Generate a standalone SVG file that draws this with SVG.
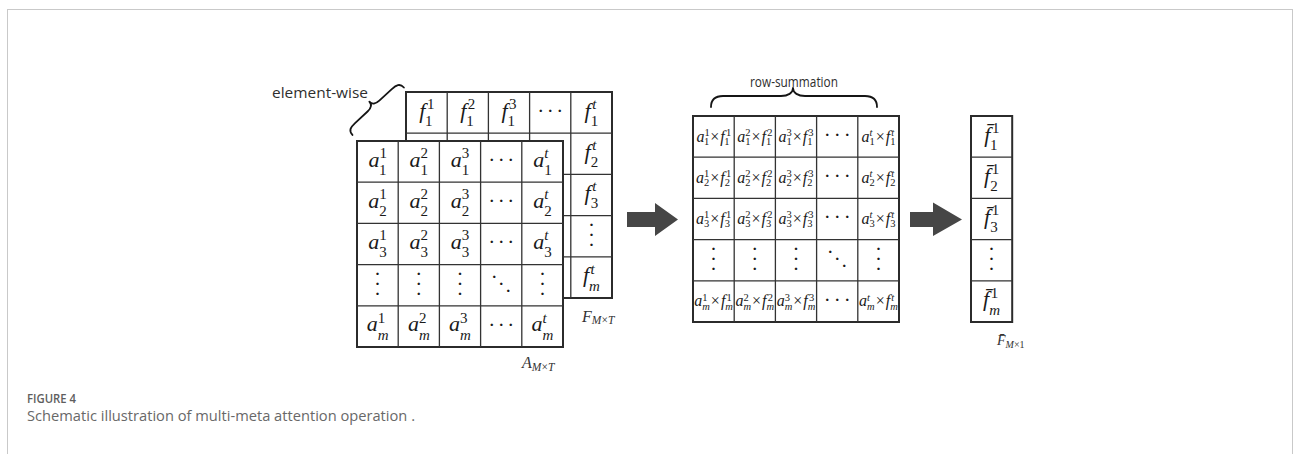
<svg xmlns="http://www.w3.org/2000/svg" width="1293" height="454" viewBox="0 0 1293 454">
<style>
.frame{fill:none;stroke:#c9c9c9;stroke-width:1}
.box{fill:#fff;stroke:#2b2b2b;stroke-width:2}
.grid{fill:none;stroke:#333;stroke-width:1.3}
.L{font-family:"Liberation Serif",serif;font-style:italic;font-size:22px;fill:#1a1a1a;text-anchor:middle}
.M{font-family:"Liberation Serif",serif;font-style:italic;font-size:16px;fill:#1a1a1a;text-anchor:middle}
.d{font-size:15px;font-style:normal}
.v{font-size:15px;font-style:italic}
.md{font-size:10.5px;font-style:normal}
.mv{font-size:10.5px;font-style:italic}
.op{font-style:normal}
.dot{font-family:"Liberation Serif",serif;font-size:21px;fill:#1a1a1a;text-anchor:middle}
.lab{font-family:"Liberation Serif",serif;font-style:italic;font-size:16px;fill:#333}
.ls{font-size:11.5px}
.note{font-family:"Open Sans",sans-serif;font-size:14px;fill:#2e2e2e}
.brace{fill:none;stroke:#151515;stroke-width:1.8;stroke-linecap:round;stroke-linejoin:round}
.arrow{fill:#464646}
.fig{font-family:"Open Sans",sans-serif;font-size:12.5px;font-weight:600;fill:#5e5e5e}
.cap{font-family:"Open Sans",sans-serif;font-size:14.5px;fill:#686868}
</style>

<!-- figure frame (open at the bottom) -->
<rect class="frame" x="7.5" y="9.5" width="1285" height="470"/>

<!-- F matrix (back layer) -->
<g id="matrix-F">
  <rect class="box" x="406" y="92" width="206" height="206"/>
  <path class="grid" d="M447.2,92V298M488.4,92V298M529.6,92V298M570.8,92V298M406,133.2H612M406,174.4H612M406,215.6H612M406,256.8H612"/>
  <text class="L" x="426.6" y="117.5">f<tspan class="d" dx="1.5" dy="-8.5">1</tspan><tspan class="d" dx="-9" dy="17">1</tspan></text>
  <text class="L" x="467.8" y="117.5">f<tspan class="d" dx="1.5" dy="-8.5">2</tspan><tspan class="d" dx="-9" dy="17">1</tspan></text>
  <text class="L" x="509" y="117.5">f<tspan class="d" dx="1.5" dy="-8.5">3</tspan><tspan class="d" dx="-9" dy="17">1</tspan></text>
  <text class="dot" x="540.7 550.2 559.7" y="118 118 118">···</text>
  <text class="L" x="591.4" y="117.5">f<tspan class="v" dx="1.5" dy="-8.5">t</tspan><tspan class="d" dx="-5.7" dy="17">1</tspan></text>
  <text class="L" x="591.4" y="158.7">f<tspan class="v" dx="1.5" dy="-8.5">t</tspan><tspan class="d" dx="-5.7" dy="17">2</tspan></text>
  <text class="L" x="591.4" y="199.9">f<tspan class="v" dx="1.5" dy="-8.5">t</tspan><tspan class="d" dx="-5.7" dy="17">3</tspan></text>
  <text class="dot" x="591.4 591.4 591.4" y="231.7 241.7 251.7">···</text>
  <text class="L" x="591.4" y="282.3">f<tspan class="v" dx="1.5" dy="-8.5">t</tspan><tspan class="v" dx="-5.7" dy="17">m</tspan></text>
  <text class="lab" x="582" y="321.5">F<tspan class="ls" dy="2.5">M<tspan class="op">×</tspan>T</tspan></text>
</g>

<!-- A matrix (front layer) -->
<g id="matrix-A">
  <rect class="box" x="357" y="141" width="206" height="206"/>
  <path class="grid" d="M398.2,141V347M439.4,141V347M480.6,141V347M521.8,141V347M357,182.2H563M357,223.4H563M357,264.6H563M357,305.8H563"/>
  <text class="L" x="377.6" y="166.5">a<tspan class="d" dy="-8.5">1</tspan><tspan class="d" dx="-7.5" dy="17">1</tspan></text>
  <text class="L" x="418.8" y="166.5">a<tspan class="d" dy="-8.5">2</tspan><tspan class="d" dx="-7.5" dy="17">1</tspan></text>
  <text class="L" x="460" y="166.5">a<tspan class="d" dy="-8.5">3</tspan><tspan class="d" dx="-7.5" dy="17">1</tspan></text>
  <text class="dot" x="491.7 501.2 510.7" y="167 167 167">···</text>
  <text class="L" x="542.4" y="166.5">a<tspan class="v" dy="-8.5">t</tspan><tspan class="d" dx="-4.2" dy="17">1</tspan></text>

  <text class="L" x="377.6" y="207.7">a<tspan class="d" dy="-8.5">1</tspan><tspan class="d" dx="-7.5" dy="17">2</tspan></text>
  <text class="L" x="418.8" y="207.7">a<tspan class="d" dy="-8.5">2</tspan><tspan class="d" dx="-7.5" dy="17">2</tspan></text>
  <text class="L" x="460" y="207.7">a<tspan class="d" dy="-8.5">3</tspan><tspan class="d" dx="-7.5" dy="17">2</tspan></text>
  <text class="dot" x="491.7 501.2 510.7" y="208.2 208.2 208.2">···</text>
  <text class="L" x="542.4" y="207.7">a<tspan class="v" dy="-8.5">t</tspan><tspan class="d" dx="-4.2" dy="17">2</tspan></text>

  <text class="L" x="377.6" y="248.9">a<tspan class="d" dy="-8.5">1</tspan><tspan class="d" dx="-7.5" dy="17">3</tspan></text>
  <text class="L" x="418.8" y="248.9">a<tspan class="d" dy="-8.5">2</tspan><tspan class="d" dx="-7.5" dy="17">3</tspan></text>
  <text class="L" x="460" y="248.9">a<tspan class="d" dy="-8.5">3</tspan><tspan class="d" dx="-7.5" dy="17">3</tspan></text>
  <text class="dot" x="491.7 501.2 510.7" y="249.4 249.4 249.4">···</text>
  <text class="L" x="542.4" y="248.9">a<tspan class="v" dy="-8.5">t</tspan><tspan class="d" dx="-4.2" dy="17">3</tspan></text>

  <text class="dot" x="377.6 377.6 377.6" y="280.7 290.7 300.7">···</text>
  <text class="dot" x="418.8 418.8 418.8" y="280.7 290.7 300.7">···</text>
  <text class="dot" x="460 460 460" y="280.7 290.7 300.7">···</text>
  <text class="dot" x="494.2 501.2 508.2" y="283.7 290.7 297.7">···</text>
  <text class="dot" x="542.4 542.4 542.4" y="280.7 290.7 300.7">···</text>

  <text class="L" x="377.6" y="331.3">a<tspan class="d" dy="-8.5">1</tspan><tspan class="v" dx="-7.5" dy="17">m</tspan></text>
  <text class="L" x="418.8" y="331.3">a<tspan class="d" dy="-8.5">2</tspan><tspan class="v" dx="-7.5" dy="17">m</tspan></text>
  <text class="L" x="460" y="331.3">a<tspan class="d" dy="-8.5">3</tspan><tspan class="v" dx="-7.5" dy="17">m</tspan></text>
  <text class="dot" x="491.7 501.2 510.7" y="331.9 331.9 331.9">···</text>
  <text class="L" x="542.4" y="331.3">a<tspan class="v" dy="-8.5">t</tspan><tspan class="v" dx="-4.2" dy="17">m</tspan></text>
  <text class="lab" x="522" y="368">A<tspan class="ls" dy="2.5">M<tspan class="op">×</tspan>T</tspan></text>
</g>

<!-- element-wise annotation -->
<g id="label-element-wise">
  <text class="note" x="272" y="98" textLength="96" lengthAdjust="spacingAndGlyphs">element-wise</text>
  <path class="brace" transform="translate(377.5,110.5) rotate(-42.7)" d="M-35,1C-35,-5 -31,-6 -25,-6L-8,-6C-3,-6 0,-8 0,-12C0,-8 3,-6 8,-6L25,-6C31,-6 35,-5 35,1"/>
</g>

<!-- product matrix A∘F -->
<g id="matrix-product">
  <rect class="box" x="693" y="116" width="206" height="206"/>
  <path class="grid" d="M734.2,116V322M775.4,116V322M816.6,116V322M857.8,116V322M693,157.2H899M693,198.4H899M693,239.6H899M693,280.8H899"/>

  <text class="M" x="713.6" y="141.5">a<tspan class="md" dy="-5.5">1</tspan><tspan class="md" dx="-5.25" dy="9">1</tspan><tspan class="op" dx="1" dy="-3.5">×</tspan><tspan dx="1">f</tspan><tspan class="md" dx="1.2" dy="-5.5">1</tspan><tspan class="md" dx="-6.45" dy="9">1</tspan></text>
  <text class="M" x="754.8" y="141.5">a<tspan class="md" dy="-5.5">2</tspan><tspan class="md" dx="-5.25" dy="9">1</tspan><tspan class="op" dx="1" dy="-3.5">×</tspan><tspan dx="1">f</tspan><tspan class="md" dx="1.2" dy="-5.5">2</tspan><tspan class="md" dx="-6.45" dy="9">1</tspan></text>
  <text class="M" x="796" y="141.5">a<tspan class="md" dy="-5.5">3</tspan><tspan class="md" dx="-5.25" dy="9">1</tspan><tspan class="op" dx="1" dy="-3.5">×</tspan><tspan dx="1">f</tspan><tspan class="md" dx="1.2" dy="-5.5">3</tspan><tspan class="md" dx="-6.45" dy="9">1</tspan></text>
  <text class="dot" x="827.2 837.2 847.2" y="142 142 142">···</text>
  <text class="M" x="878.4" y="141.5">a<tspan class="mv" dy="-5.5">t</tspan><tspan class="md" dx="-2.9" dy="9">1</tspan><tspan class="op" dx="1" dy="-3.5">×</tspan><tspan dx="1">f</tspan><tspan class="mv" dx="1.2" dy="-5.5">t</tspan><tspan class="md" dx="-4.1" dy="9">1</tspan></text>

  <text class="M" x="713.6" y="182.7">a<tspan class="md" dy="-5.5">1</tspan><tspan class="md" dx="-5.25" dy="9">2</tspan><tspan class="op" dx="1" dy="-3.5">×</tspan><tspan dx="1">f</tspan><tspan class="md" dx="1.2" dy="-5.5">1</tspan><tspan class="md" dx="-6.45" dy="9">2</tspan></text>
  <text class="M" x="754.8" y="182.7">a<tspan class="md" dy="-5.5">2</tspan><tspan class="md" dx="-5.25" dy="9">2</tspan><tspan class="op" dx="1" dy="-3.5">×</tspan><tspan dx="1">f</tspan><tspan class="md" dx="1.2" dy="-5.5">2</tspan><tspan class="md" dx="-6.45" dy="9">2</tspan></text>
  <text class="M" x="796" y="182.7">a<tspan class="md" dy="-5.5">3</tspan><tspan class="md" dx="-5.25" dy="9">2</tspan><tspan class="op" dx="1" dy="-3.5">×</tspan><tspan dx="1">f</tspan><tspan class="md" dx="1.2" dy="-5.5">3</tspan><tspan class="md" dx="-6.45" dy="9">2</tspan></text>
  <text class="dot" x="827.2 837.2 847.2" y="183.2 183.2 183.2">···</text>
  <text class="M" x="878.4" y="182.7">a<tspan class="mv" dy="-5.5">t</tspan><tspan class="md" dx="-2.9" dy="9">2</tspan><tspan class="op" dx="1" dy="-3.5">×</tspan><tspan dx="1">f</tspan><tspan class="mv" dx="1.2" dy="-5.5">t</tspan><tspan class="md" dx="-4.1" dy="9">2</tspan></text>

  <text class="M" x="713.6" y="223.9">a<tspan class="md" dy="-5.5">1</tspan><tspan class="md" dx="-5.25" dy="9">3</tspan><tspan class="op" dx="1" dy="-3.5">×</tspan><tspan dx="1">f</tspan><tspan class="md" dx="1.2" dy="-5.5">1</tspan><tspan class="md" dx="-6.45" dy="9">3</tspan></text>
  <text class="M" x="754.8" y="223.9">a<tspan class="md" dy="-5.5">2</tspan><tspan class="md" dx="-5.25" dy="9">3</tspan><tspan class="op" dx="1" dy="-3.5">×</tspan><tspan dx="1">f</tspan><tspan class="md" dx="1.2" dy="-5.5">2</tspan><tspan class="md" dx="-6.45" dy="9">3</tspan></text>
  <text class="M" x="796" y="223.9">a<tspan class="md" dy="-5.5">3</tspan><tspan class="md" dx="-5.25" dy="9">3</tspan><tspan class="op" dx="1" dy="-3.5">×</tspan><tspan dx="1">f</tspan><tspan class="md" dx="1.2" dy="-5.5">3</tspan><tspan class="md" dx="-6.45" dy="9">3</tspan></text>
  <text class="dot" x="827.2 837.2 847.2" y="224.4 224.4 224.4">···</text>
  <text class="M" x="878.4" y="223.9">a<tspan class="mv" dy="-5.5">t</tspan><tspan class="md" dx="-2.9" dy="9">3</tspan><tspan class="op" dx="1" dy="-3.5">×</tspan><tspan dx="1">f</tspan><tspan class="mv" dx="1.2" dy="-5.5">t</tspan><tspan class="md" dx="-4.1" dy="9">3</tspan></text>

  <text class="dot" x="713.6 713.6 713.6" y="255.7 265.7 275.7">···</text>
  <text class="dot" x="754.8 754.8 754.8" y="255.7 265.7 275.7">···</text>
  <text class="dot" x="796 796 796" y="255.7 265.7 275.7">···</text>
  <text class="dot" x="830.2 837.2 844.2" y="258.7 265.7 272.7">···</text>
  <text class="dot" x="878.4 878.4 878.4" y="255.7 265.7 275.7">···</text>

  <text class="M" x="713.6" y="306.3">a<tspan class="md" dy="-5.5">1</tspan><tspan class="mv" dx="-5.25" dy="9">m</tspan><tspan class="op" dx="1" dy="-3.5">×</tspan><tspan dx="1">f</tspan><tspan class="md" dx="1.2" dy="-5.5">1</tspan><tspan class="mv" dx="-6.45" dy="9">m</tspan></text>
  <text class="M" x="754.8" y="306.3">a<tspan class="md" dy="-5.5">2</tspan><tspan class="mv" dx="-5.25" dy="9">m</tspan><tspan class="op" dx="1" dy="-3.5">×</tspan><tspan dx="1">f</tspan><tspan class="md" dx="1.2" dy="-5.5">2</tspan><tspan class="mv" dx="-6.45" dy="9">m</tspan></text>
  <text class="M" x="796" y="306.3">a<tspan class="md" dy="-5.5">3</tspan><tspan class="mv" dx="-5.25" dy="9">m</tspan><tspan class="op" dx="1" dy="-3.5">×</tspan><tspan dx="1">f</tspan><tspan class="md" dx="1.2" dy="-5.5">3</tspan><tspan class="mv" dx="-6.45" dy="9">m</tspan></text>
  <text class="dot" x="827.2 837.2 847.2" y="306.8 306.8 306.8">···</text>
  <text class="M" x="878.4" y="306.3">a<tspan class="mv" dy="-5.5">t</tspan><tspan class="mv" dx="-2.9" dy="9">m</tspan><tspan class="op" dx="1" dy="-3.5">×</tspan><tspan dx="1">f</tspan><tspan class="mv" dx="1.2" dy="-5.5">t</tspan><tspan class="mv" dx="-4.1" dy="9">m</tspan></text>
</g>

<!-- row-summation annotation -->
<g id="label-row-summation">
  <text class="note" x="750" y="87" textLength="88" lengthAdjust="spacingAndGlyphs">row-summation</text>
  <path class="brace" d="M711,107C711,99 715,96 723,96L781,96C788,96 793,93 793,88C793,93 798,96 805,96L865,96C873,96 877,99 877,107"/>
</g>

<!-- summed vector -->
<g id="vector-Fbar">
  <rect class="box" x="971" y="116" width="41.2" height="206"/>
  <path class="grid" d="M971,157.2H1012.2M971,198.4H1012.2M971,239.6H1012.2M971,280.8H1012.2"/>
  <text class="L" x="991.6" y="141.5">f̄<tspan class="d" dx="1.5" dy="-8.5">1</tspan><tspan class="d" dx="-9" dy="17">1</tspan></text>
  <text class="L" x="991.6" y="182.7">f̄<tspan class="d" dx="1.5" dy="-8.5">1</tspan><tspan class="d" dx="-9" dy="17">2</tspan></text>
  <text class="L" x="991.6" y="223.9">f̄<tspan class="d" dx="1.5" dy="-8.5">1</tspan><tspan class="d" dx="-9" dy="17">3</tspan></text>
  <text class="dot" x="991.6 991.6 991.6" y="255.7 265.7 275.7">···</text>
  <text class="L" x="991.6" y="306.3">f̄<tspan class="d" dx="1.5" dy="-8.5">1</tspan><tspan class="v" dx="-9" dy="17">m</tspan></text>
  <text class="lab" x="997" y="345" style="font-size:14px">F̄<tspan class="ls" style="font-size:10px" dy="2.5">M<tspan class="op">×</tspan><tspan class="op">1</tspan></tspan></text>
</g>

<!-- flow arrows -->
<g id="connectors">
  <polygon class="arrow" points="627,212 655,212 655,203 678,219.5 655,236 655,227 627,227"/>
  <polygon class="arrow" points="910,212 933,212 933,202.5 962,219.5 933,236 933,227 910,227"/>
</g>

<!-- caption -->
<g id="caption">
  <text class="fig" x="27" y="402.5" textLength="49" lengthAdjust="spacingAndGlyphs">FIGURE 4</text>
  <text class="cap" x="27" y="420.5" textLength="388" lengthAdjust="spacingAndGlyphs">Schematic illustration of multi-meta attention operation .</text>
</g>
</svg>
